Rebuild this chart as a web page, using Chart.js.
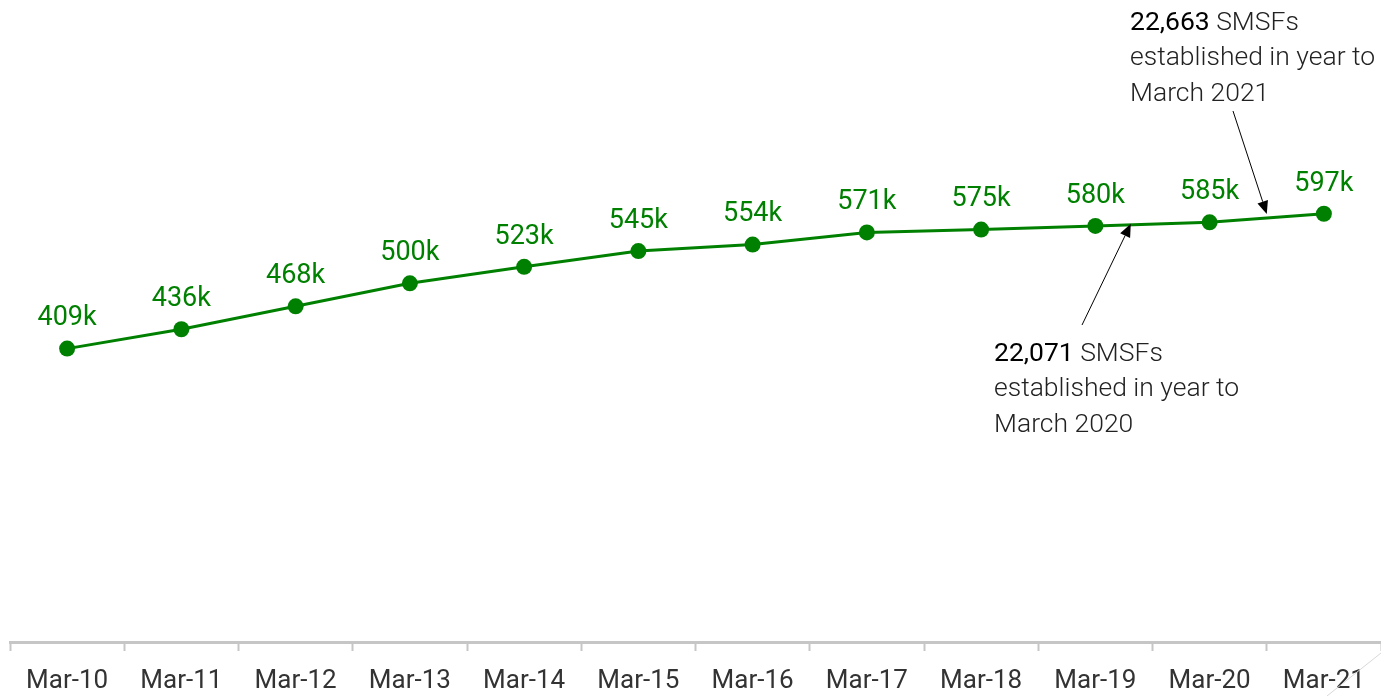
<!DOCTYPE html>
<html>
<head>
<meta charset="utf-8">
<script src="https://cdn.jsdelivr.net/npm/chart.js@4"></script>
<style>
  body { margin: 0; background: #fff; }
  #wrap { width: 1381px; height: 696px; }
</style>
</head>
<body>
<div id="wrap"><canvas id="smsf_canva" width="1381" height="696"></canvas></div>
<script>
// Categories (X-axis)
var years = ['Mar-10', 'Mar-11', 'Mar-12', 'Mar-13', 'Mar-14', 'Mar-15',
             'Mar-16', 'Mar-17', 'Mar-18', 'Mar-19', 'Mar-20', 'Mar-21'];

// Number of SMSFs, thousands (Y-axis)
var smsf_count = [409, 436, 468, 500, 523, 545, 554, 571, 575, 580, 585, 597];

// Point labels
var point_labels = ['409k', '436k', '468k', '500k', '523k', '545k',
                    '554k', '571k', '575k', '580k', '585k', '597k'];

// Call-outs: [number, rest of first line, line 2, line 3]
var note_2020 = ['22,071', ' SMSFs', 'established in year to', 'March 2020'];
var note_2021 = ['22,663', ' SMSFs', 'established in year to', 'March 2021'];

var GREEN = 'rgb(0, 128, 0)';

// point labels above each marker
const labelPlugin = {
    id: 'pointLabels',
    afterDatasetsDraw( chart ){
        var ctx = chart.ctx;
        var meta = chart.getDatasetMeta(0);
        ctx.save();
        ctx.font = '27px Roboto';
        ctx.fillStyle = GREEN;
        ctx.textAlign = 'center';
        ctx.textBaseline = 'middle';
        meta.data.forEach(function( pt, i ){
            ctx.fillText( point_labels[i], pt.x, pt.y - 30 );
        });
        ctx.restore();
    }
};

function draw_arrow( ctx, x0, y0, x1, y1 ){
    var ang = Math.atan2( y1 - y0, x1 - x0 );
    var len = 13, half = 5.5;
    ctx.beginPath();
    ctx.moveTo( x0, y0 );
    ctx.lineTo( x1 - Math.cos(ang) * len, y1 - Math.sin(ang) * len );
    ctx.stroke();
    ctx.beginPath();
    ctx.moveTo( x1, y1 );
    ctx.lineTo( x1 - Math.cos(ang) * len - Math.sin(ang) * half, y1 - Math.sin(ang) * len + Math.cos(ang) * half );
    ctx.lineTo( x1 - Math.cos(ang) * len + Math.sin(ang) * half, y1 - Math.sin(ang) * len - Math.cos(ang) * half );
    ctx.closePath();
    ctx.fill();
}

function draw_note( ctx, note, x, y ){
    ctx.textAlign = 'left';
    ctx.textBaseline = 'middle';
    ctx.font = '26.5px Roboto';
    ctx.fillStyle = '#000';
    ctx.fillText( note[0], x, y );
    var w = ctx.measureText( note[0] ).width;
    ctx.font = '300 26.5px Roboto';
    ctx.fillStyle = '#222';
    ctx.fillText( note[1], x + w, y );
    ctx.fillText( note[2], x, y + 35.5 );
    ctx.fillText( note[3], x, y + 71 );
}

// call-outs with arrows pointing between two points of the line
const notePlugin = {
    id: 'notes',
    afterDraw( chart ){
        var ctx = chart.ctx;
        var meta = chart.getDatasetMeta(0).data;
        ctx.save();

        draw_note( ctx, note_2021, 1130, 23 );
        draw_note( ctx, note_2020, 994, 354 );

        ctx.strokeStyle = '#000';
        ctx.fillStyle = '#000';
        ctx.lineWidth = 1;

        // 2020: between Mar-19 and Mar-20
        var a = meta[9], b = meta[10], f = 0.31;
        draw_arrow( ctx, 1082, 325, a.x + (b.x - a.x) * f, a.y + (b.y - a.y) * f - 1 );

        // 2021: between Mar-20 and Mar-21
        a = meta[10]; b = meta[11]; f = 0.5;
        draw_arrow( ctx, 1233, 111, a.x + (b.x - a.x) * f, a.y + (b.y - a.y) * f - 4 );

        // faint corner stroke
        ctx.strokeStyle = '#d8d8d8';
        ctx.beginPath();
        ctx.moveTo( 1327, 696 );
        ctx.lineTo( 1381, 653 );
        ctx.stroke();

        ctx.restore();
    }
};

var ctx = document.getElementById('smsf_canva').getContext('2d');

new Chart(ctx, {
    type: 'line',
    data: {
        labels: years,
        datasets: [{
            label: 'SMSFs',
            data: smsf_count,
            borderColor: GREEN,
            backgroundColor: GREEN,
            borderWidth: 3,
            pointRadius: 8,
            pointHoverRadius: 8,
            pointBackgroundColor: GREEN,
            pointBorderWidth: 0,
            fill: false,
            tension: 0
        }]
    },
    options: {
        responsive: false,
        animation: false,
        layout: {
            autoPadding: false,
            padding: { left: 10, right: 0, top: 0, bottom: 0 }
        },
        plugins: {
            legend: { display: false },
            tooltip: { enabled: false },
            title: { display: false }
        },
        scales: {
            x: {
                offset: true,
                afterFit: function( scale ){
                    // fixed axis band, no extra side padding
                    scale.height = 54;
                    scale.paddingLeft = 0;
                    scale.paddingRight = 0;
                },
                border: { display: true, color: '#c6c6c6', width: 3 },
                grid: {
                    offset: true,
                    drawOnChartArea: false,
                    drawTicks: true,
                    tickLength: 9,
                    tickWidth: 2,
                    tickColor: '#c6c6c6'
                },
                ticks: {
                    autoSkip: false,
                    maxRotation: 0,
                    padding: 15,
                    color: '#333',
                    font: { family: 'Roboto', size: 26 }
                }
            },
            y: {
                display: false,
                min: 0,
                max: 895
            }
        }
    },
    plugins: [labelPlugin, notePlugin]
});
</script>
</body>
</html>
